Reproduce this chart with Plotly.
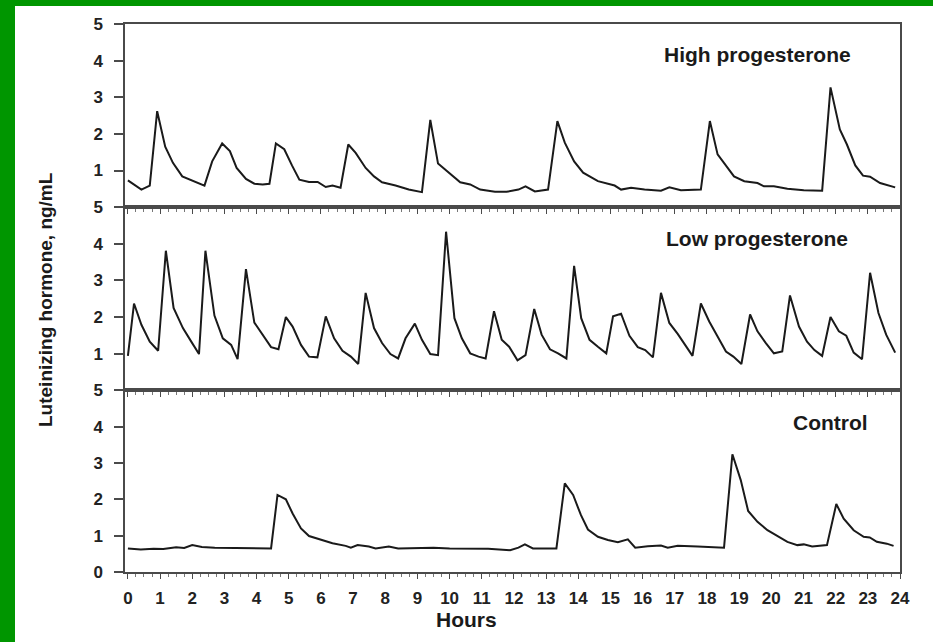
import plotly.graph_objects as go

# ---------------- data (hours, LH ng/mL) ----------------
high_hours = [0, 0.42, 0.68, 0.91, 1.16, 1.4, 1.69, 1.97, 2.38, 2.62, 2.93, 3.17, 3.38, 3.67, 3.93, 4.19,
              4.4, 4.6, 4.86, 5.1, 5.33, 5.63, 5.9, 6.15, 6.36, 6.61, 6.85, 7.08, 7.39, 7.65, 7.9, 8.32,
              8.73, 9.14, 9.4, 9.64, 9.97, 10.33, 10.64, 10.95, 11.41, 11.77, 12.14, 12.36, 12.65, 13.06,
              13.35, 13.58, 13.87, 14.15, 14.61, 15.13, 15.33, 15.64, 16.06, 16.57, 16.83, 17.19, 17.81,
              18.09, 18.33, 18.53, 18.84, 19.16, 19.57, 19.77, 20.08, 20.5, 21.01, 21.58, 21.84, 22.13,
              22.35, 22.61, 22.85, 23.07, 23.38, 23.85]
high_lh = [0.73, 0.48, 0.59, 2.62, 1.65, 1.21, 0.84, 0.73, 0.59, 1.25, 1.74, 1.53, 1.07, 0.77, 0.64, 0.62,
           0.64, 1.74, 1.58, 1.14, 0.75, 0.69, 0.69, 0.55, 0.59, 0.53, 1.71, 1.48, 1.07, 0.84, 0.68, 0.59,
           0.48, 0.41, 2.38, 1.19, 0.94, 0.68, 0.62, 0.48, 0.42, 0.42, 0.48, 0.57, 0.43, 0.48,
           2.35, 1.76, 1.25, 0.94, 0.71, 0.59, 0.48, 0.53, 0.48, 0.45, 0.54, 0.46, 0.48,
           2.35, 1.44, 1.21, 0.84, 0.71, 0.66, 0.57, 0.57, 0.5, 0.46, 0.45, 3.27, 2.12,
           1.71, 1.14, 0.86, 0.83, 0.66, 0.54]

low_hours = [0, 0.19, 0.42, 0.68, 0.94, 1.18, 1.42, 1.71, 1.97, 2.21, 2.41, 2.69, 2.95, 3.21, 3.41, 3.67,
             3.93, 4.19, 4.45, 4.68, 4.91, 5.12, 5.38, 5.63, 5.89, 6.15, 6.41, 6.67, 6.93, 7.16, 7.39,
             7.65, 7.9, 8.16, 8.4, 8.63, 8.92, 9.14, 9.4, 9.64, 9.89, 10.15, 10.38, 10.64, 10.9, 11.12,
             11.38, 11.62, 11.85, 12.11, 12.36, 12.63, 12.86, 13.12, 13.37, 13.63, 13.87, 14.09, 14.35,
             14.61, 14.87, 15.08, 15.33, 15.59, 15.85, 16.08, 16.32, 16.57, 16.83, 17.09, 17.32, 17.55,
             17.81, 18.07, 18.33, 18.59, 18.82, 19.07, 19.34, 19.57, 19.83, 20.08, 20.34, 20.58, 20.86,
             21.11, 21.34, 21.58, 21.84, 22.1, 22.33, 22.56, 22.82, 23.07, 23.33, 23.57, 23.85]
low_lh = [0.94, 2.37, 1.79, 1.33, 1.08, 3.81, 2.25, 1.70, 1.33, 0.99, 3.81, 2.04, 1.42, 1.24, 0.85, 3.31,
          1.85, 1.52, 1.18, 1.12, 2.0, 1.74, 1.24, 0.92, 0.9, 2.02, 1.42, 1.08, 0.92, 0.72, 2.66,
          1.70, 1.29, 0.99, 0.87, 1.42, 1.82, 1.38, 0.99, 0.96, 4.33, 1.97, 1.42, 1.01, 0.92, 0.87,
          2.16, 1.38, 1.19, 0.82, 0.96, 2.22, 1.52, 1.12, 1.01, 0.87, 3.40, 1.97, 1.38,
          1.19, 1.01, 2.02, 2.09, 1.49, 1.18, 1.10, 0.9, 2.66, 1.84, 1.54, 1.24, 0.94,
          2.37, 1.88, 1.47, 1.06, 0.92, 0.72, 2.07, 1.61, 1.29, 1.01, 1.06, 2.59, 1.74,
          1.33, 1.10, 0.94, 2.0, 1.61, 1.49, 1.03, 0.85, 3.21, 2.11, 1.52, 1.03]

ctl_hours = [0, 0.4, 0.8, 1.1, 1.5, 1.75, 2.0, 2.3, 2.7, 3.1, 3.5, 4.0, 4.45, 4.65, 4.91, 5.12, 5.38,
             5.63, 5.94, 6.36, 6.77, 6.93, 7.14, 7.49, 7.7, 8.11, 8.4, 9.0, 9.5, 10.0, 10.6, 11.2, 11.88,
             12.14, 12.34, 12.59, 13.32, 13.58, 13.84, 14.08, 14.3, 14.61, 14.92, 15.23, 15.54, 15.77,
             16.16, 16.57, 16.78, 17.09, 17.71, 18.53, 18.79, 19.05, 19.28, 19.57, 19.88, 20.19, 20.5,
             20.81, 21.01, 21.27, 21.73, 22.02, 22.25, 22.56, 22.87, 23.06, 23.28, 23.59, 23.8]
ctl_lh = [0.65, 0.62, 0.64, 0.63, 0.68, 0.66, 0.74, 0.69, 0.67, 0.67, 0.66, 0.65, 0.65, 2.12, 2.0, 1.61, 1.2,
          0.99, 0.9, 0.79, 0.72, 0.67, 0.74, 0.7, 0.65, 0.7, 0.65, 0.66, 0.67, 0.65, 0.65, 0.64, 0.6,
          0.67, 0.76, 0.65, 0.65, 2.44, 2.12, 1.57, 1.17, 0.97, 0.88, 0.82, 0.9, 0.67,
          0.71, 0.73, 0.67, 0.72, 0.7, 0.67, 3.24, 2.53, 1.68, 1.38, 1.15, 0.99, 0.83,
          0.74, 0.76, 0.7, 0.74, 1.87, 1.47, 1.15, 0.97, 0.95, 0.83, 0.78, 0.72]

panel_labels = ["High progesterone", "Low progesterone", "Control"]
x_ticks = list(range(0, 25))
y_ticks_upper = [1, 2, 3, 4, 5]
y_ticks_bottom = [0, 1, 2, 3, 4, 5]

# ---------------- figure ----------------
W, H = 933, 642
ML, MR, MT, MB = 125, 33, 24, 70
pw, ph = W - ML - MR, H - MT - MB

FONT = "Liberation Sans, Arial, sans-serif"
LINE_C = "#1a1a1a"
AX_C = "#4a4a4a"
tick_font = dict(family=FONT, size=17, color="#222", weight="bold")

fig = go.Figure()
series = [(high_hours, high_lh, "x", "y"), (low_hours, low_lh, "x2", "y2"), (ctl_hours, ctl_lh, "x3", "y3")]
for hx, hy, xa, ya in series:
    fig.add_trace(go.Scatter(x=hx, y=hy, mode="lines", xaxis=xa, yaxis=ya,
                             line=dict(color=LINE_C, width=2), showlegend=False, hoverinfo="skip"))

b1 = (571.5 - 390) / 547.5
b2 = (571.5 - 207) / 547.5
domains = {"y": [b2, 1.0], "y2": [b1, b2], "y3": [0.0, b1]}

xrange_ = [-0.09, 24.0]
common_x = dict(range=xrange_, showline=True, linecolor=AX_C, linewidth=1.5, mirror=True,
                ticks="outside", ticklen=5, tickwidth=1.2, tickcolor=AX_C,
                tickvals=x_ticks, showgrid=False, zeroline=False,
                minor=dict(dtick=0.25, tick0=0, ticks="outside", ticklen=3, tickwidth=1, tickcolor="#777"))
common_y = dict(range=[0, 5], showline=True, linecolor=AX_C, linewidth=1.5, mirror=True,
                ticks="outside", ticklen=9, tickwidth=1.5, tickcolor=AX_C,
                showgrid=False, zeroline=False,
                tickfont=tick_font, ticklabelstandoff=8)

fig.update_layout(
    xaxis=dict(common_x, anchor="y", domain=[0, 1], showticklabels=False),
    xaxis2=dict(common_x, anchor="y2", domain=[0, 1], showticklabels=False),
    xaxis3=dict(common_x, anchor="y3", domain=[0, 1], showticklabels=True,
                tickfont=tick_font, ticklabelstandoff=5),
    yaxis=dict(common_y, anchor="x", domain=domains["y"], tickvals=y_ticks_upper),
    yaxis2=dict(common_y, anchor="x2", domain=domains["y2"], tickvals=y_ticks_upper),
    yaxis3=dict(common_y, anchor="x3", domain=domains["y3"], tickvals=y_ticks_bottom),
)

def px_x(p):
    return (p - ML) / pw

def px_y(p):
    return (H - MB - p) / ph

ann_font = dict(family=FONT, size=21, color="#1a1a1a")
annos = [
    dict(text="<b>" + panel_labels[0] + "</b>", x=px_x(757), y=px_y(55)),
    dict(text="<b>" + panel_labels[1] + "</b>", x=px_x(757), y=px_y(238)),
    dict(text="<b>" + panel_labels[2] + "</b>", x=px_x(830), y=px_y(422)),
    dict(text="<b>Hours</b>", x=px_x(466), y=px_y(620)),
]
for a in annos:
    fig.add_annotation(xref="paper", yref="paper", xanchor="center", yanchor="middle",
                       showarrow=False, font=ann_font, **a)
fig.add_annotation(xref="paper", yref="paper", xanchor="center", yanchor="middle", showarrow=False,
                   text="<b>Luteinizing hormone, ng/mL</b>", x=px_x(46), y=px_y(300), textangle=-90,
                   font=dict(family=FONT, size=19, color="#1a1a1a"))

# green frame (top band and left band)
green = "#009600"
fig.add_shape(type="rect", xref="paper", yref="paper", x0=px_x(0), x1=px_x(W), y0=px_y(6), y1=px_y(0),
              fillcolor=green, line=dict(width=0), layer="below")
fig.add_shape(type="rect", xref="paper", yref="paper", x0=px_x(0), x1=px_x(15), y0=px_y(H), y1=px_y(0),
              fillcolor=green, line=dict(width=0), layer="below")

fig.update_layout(width=W, height=H, margin=dict(l=ML, r=MR, t=MT, b=MB, pad=0),
                  paper_bgcolor="white", plot_bgcolor="white")

fig.write_html("out.html")
